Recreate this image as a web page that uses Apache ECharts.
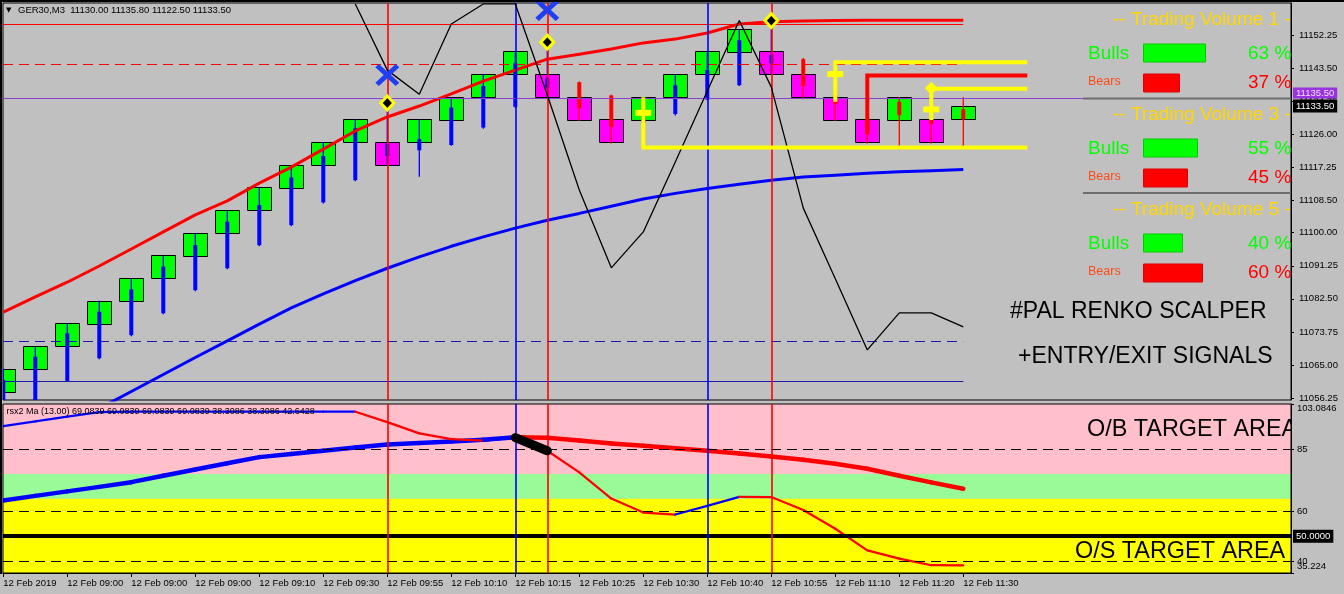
<!DOCTYPE html>
<html><head><meta charset="utf-8">
<script src="https://cdn.jsdelivr.net/npm/echarts@6/dist/echarts.min.js"></script>
<style>html,body{margin:0;padding:0;background:#c0c0c0;overflow:hidden}#c{width:1344px;height:594px}</style>
</head><body><div id="c"></div>
<script>
// ---------------- DATA ----------------
const timeLabels = ['12 Feb 2019','12 Feb 09:00','12 Feb 09:00','12 Feb 09:00','12 Feb 09:10','12 Feb 09:30','12 Feb 09:55','12 Feb 10:10','12 Feb 10:15','12 Feb 10:25','12 Feb 10:30','12 Feb 10:40','12 Feb 10:55','12 Feb 11:10','12 Feb 11:20','12 Feb 11:30'];
const headerSymbol = 'GER30,M3';
const headerOHLC = [11130.00, 11135.80, 11122.50, 11133.50];
const priceTicks = [11152.25, 11143.50, 11134.75, 11126.00, 11117.25, 11108.50, 11100.00, 11091.25, 11082.50, 11073.75, 11065.00, 11056.25];

// renko bricks (open, close)
const brickOpen  = [11058,11064,11070,11076,11082,11088,11094,11100,11106,11112,11118,11124,11124,11124,11130,11136,11142,11142,11136,11130,11130,11136,11142,11148,11148,11142,11136,11130,11130,11130,11130];
const brickClose = [11064,11070,11076,11082,11088,11094,11100,11106,11112,11118,11124,11130,11118,11130,11136,11142,11148,11136,11130,11124,11136,11142,11148,11154,11142,11136,11130,11124,11136,11124,11133.5];

// overlaid candles
const candleOpen  = [11050,11052,11060.8,11066.8,11072.9,11078.7,11084.8,11090.6,11096.7,11102,11108,11113.9,11120.3,11121.8,11123.2,11127.8,11133.3,11138.4,11139.8,11136.3,11129,11131.4,11135.2,11139,11144.8,11145.9,11136.4,11130,11134.6,11130,11132.6];
const candleClose = [11061,11067.2,11073.4,11079.1,11085,11091,11096.7,11102.9,11107.3,11114.6,11120.3,11127.6,11123.6,11124.7,11133.1,11138.8,11144.8,11140.8,11132.9,11128,11132,11139,11143,11150.9,11147,11138.8,11134,11126,11131.1,11128.8,11130];
const candleLow   = [11048,11050,11060.5,11066.5,11072.6,11078.4,11084.5,11090.3,11096.4,11101.7,11107.7,11113.6,11117.7,11114.8,11123,11127.5,11133,11135.9,11129.6,11123.6,11127,11131,11135,11138.8,11141.7,11135.3,11129.6,11123.6,11123,11123.6,11122.5];
const candleHigh  = [11064,11069.8,11076,11082,11087.9,11093.9,11099.8,11105.8,11111.9,11117.8,11123.9,11130,11133.7,11130,11135.8,11141.9,11148,11149.2,11140,11136.5,11135,11141.9,11148,11153.8,11156.2,11146.2,11137,11131,11135.9,11137.3,11135.8];

const maRed  = [11079.0,11083.0,11086.9,11091.2,11095.7,11100.2,11104.7,11108.4,11113.1,11117.35,11122.1,11126.9,11130.6,11133.5,11136.7,11140.1,11143.0,11145.9,11147.2,11148.6,11150.2,11151.2,11152.8,11155.2,11155.8,11156.0,11156.1,11156.2,11156.2,11156.2,11156.2];
const maBlue = [11039.35,11044.1,11048.9,11053.5,11058.0,11062.5,11067.0,11071.4,11075.8,11080.1,11083.8,11087.3,11090.6,11093.6,11096.4,11098.9,11101.2,11103.3,11105.1,11107.0,11108.9,11110.4,11111.7,11112.8,11113.9,11114.7,11115.2,11115.7,11116.1,11116.4,11116.7];
const zigzag = [null,null,null,null,null,null,null,null,null,null,null,11160.5,11143.0,11136.6,11155.2,11160.5,11160.5,11136.4,11111.3,11090.7,11100.2,11118.7,11137.5,11156.1,11138.5,11106.5,11087.8,11069.0,11078.8,11078.8,11075.1];

const levelPrices = [11155.1, 11144.5, 11071.4, 11060.8];
const levelEndBar = 30;
const sellBars = [12, 17, 24];
const buyBars = [16, 22];
const crossMarks = [[12, 11141.7], [17, 11158.9]];
const diamondMarks = [[12, 11134.3], [17, 11150.4], [24, 11156.1]];
const entryDiamond = [[29, 11138.2]];
const signalBars   = [20, 26, 29];
const signalLevels = [11122.5, 11145.1, 11138.1];
const signalStems  = [11135.8, 11134.65, 11129.8];
const signalCross  = [11131.7, 11141.95, 11132.6];
const stopBar = 27, stopLevel = 11141.6, stopStem = 11127.0;
const signalEndBar = 32;
const askPrice = 11135.50, bidPrice = 11133.50;

// lower indicator
const rsxSlow = [64.33,66.2,68.0,69.8,71.7,74.3,76.8,79.3,81.75,83.0,84.3,85.6,86.8,87.4,88.0,88.7,89.7,89.5,88.4,87.2,86.3,85.3,84.3,83.2,82.0,80.7,79.1,77.1,74.3,71.6,69.0839];
const rsxFast = [94.2,96.1,98.0,99.8,100,100,100,100,100,100,100,100,95.8,91.3,89.0,88.4,89.6,84.3,75.6,65.1,59.5,58.7,62.2,65.8,65.7,60.5,53.0,44.3,41.0,38.35,38.3086];
const crossSegment = [[16, 89.6], [17, 84.3]];
const rsxReadout = ['69.0839','69.0839','69.0839','69.0839','38.3086','38.3086','42.6428'];
const rsxTicks = [103.0846, 85, 60, 40];
const rsxTickLabels = ['103.0846', '85', '60', '40'];
const rsxMin = 35.224, rsxMinLabel = '35.224';
const zoneBounds = [35.224, 65, 75, 103.0846];
const dashedLevels = [85, 60, 40];
const midLevel = 50;

// trading volume panel
const volTitles = ['-- Trading Volume 1 -', '-- Trading Volume 3 -', '-- Trading Volume 5 -'];
const bullsPct = [63, 55, 40];
const bearsPct = [37, 45, 60];

// ---------------- CHART ----------------
const FONT = '"Liberation Sans", Arial, sans-serif';
const SMALL = 9.5;
const X_MIN = -0.3 / 32, X_MAX = X_MIN + 1288 / 32;
const BLUE = '#0000ff', RED = '#ff0000', YEL = '#ffff00';
const tickBars = timeLabels.map((_, k) => 2 * k);

const chart = echarts.init(document.getElementById('c'), null, {renderer: 'canvas'});

function renderBrick(params, api) {
  const i = api.value(0), o = api.value(1), c = api.value(2);
  const top = api.coord([i, Math.max(o, c)]);
  const bot = api.coord([i, Math.min(o, c)]);
  const w = api.size([0.75, 0])[0];
  return {type: 'rect', shape: {x: Math.round(top[0] - w / 2) + 0.5, y: Math.round(top[1]) + 0.5, width: Math.round(w), height: Math.round(bot[1] - top[1])},
    style: {fill: c > o ? '#00ff00' : '#ff00ff', stroke: '#000', lineWidth: 1}};
}
function renderCandle(params, api) {
  const i = api.value(0), o = api.value(1), c = api.value(2), l = api.value(3), h = api.value(4);
  const col = c >= o ? BLUE : RED;
  const top = api.coord([i, Math.max(o, c)]), bot = api.coord([i, Math.min(o, c)]);
  const hi = api.coord([i, h]), lo = api.coord([i, l]);
  return {type: 'group', children: [
    {type: 'line', shape: {x1: hi[0], y1: hi[1], x2: lo[0], y2: lo[1]}, style: {stroke: col, lineWidth: 1.3}},
    {type: 'rect', shape: {x: top[0] - 2, y: top[1], width: 4, height: Math.max(1, bot[1] - top[1])}, style: {fill: col}}
  ]};
}
function renderSignal(params, api) {
  const b = api.value(0), lvl = api.value(1), stem = api.value(2), cr = api.value(3);
  const a = api.coord([b, lvl]), s = api.coord([b, stem]), e = api.coord([signalEndBar, lvl]), c = api.coord([b, cr]);
  return {type: 'group', children: [
    {type: 'polyline', shape: {points: [s, a, e]}, style: {stroke: YEL, lineWidth: 4, fill: 'none', lineJoin: 'miter'}},
    {type: 'rect', shape: {x: c[0] - 8, y: c[1] - 3, width: 16, height: 6}, style: {fill: YEL}}
  ]};
}
function renderStop(params, api) {
  const b = api.value(0), lvl = api.value(1), stem = api.value(2);
  const a = api.coord([b, lvl]), s = api.coord([b, stem]), e = api.coord([signalEndBar, lvl]);
  return {type: 'polyline', shape: {points: [s, a, e]}, style: {stroke: RED, lineWidth: 4, fill: 'none'}};
}
function segData(vals) {
  const out = []; let prev = 1;
  for (let i = 0; i < vals.length - 1; i++) {
    let dir = vals[i + 1] > vals[i] ? 1 : (vals[i + 1] < vals[i] ? 0 : prev);
    prev = dir;
    out.push([i, vals[i], i + 1, vals[i + 1], dir]);
  }
  return out;
}
function segRenderer(width) {
  return function (params, api) {
    const p1 = api.coord([api.value(0), api.value(1)]), p2 = api.coord([api.value(2), api.value(3)]);
    return {type: 'line', shape: {x1: p1[0], y1: p1[1], x2: p2[0], y2: p2[1]},
      style: {stroke: api.value(4) ? BLUE : RED, lineWidth: width, lineCap: 'round'}};
  };
}

const vLines = sellBars.map(b => ({xAxis: b, lineStyle: {color: RED, width: 1.6, type: 'solid'}}))
  .concat(buyBars.map(b => ({xAxis: b, lineStyle: {color: BLUE, width: 1.6, type: 'solid'}})));
const levelStyles = [
  {color: RED, width: 1, type: 'solid'}, {color: RED, width: 1, type: [10, 6]},
  {color: '#1c1ca8', width: 1, type: [10, 6]}, {color: '#1c1ca8', width: 1, type: 'solid'}];
const levelLines = levelPrices.map((p, k) => [{coord: [X_MIN, p], lineStyle: levelStyles[k]}, {coord: [levelEndBar, p]}]);

const gridTopsVol = [38, 133, 228];

const series = [
  {type: 'line', xAxisIndex: 0, yAxisIndex: 0, data: [], z: 1, silent: true,
    markLine: {silent: true, symbol: 'none', animation: false, label: {show: false},
      data: levelLines.concat([
        {yAxis: askPrice, lineStyle: {color: '#8a3fd0', width: 1, type: 'solid'},
          label: {show: true, position: 'end', distance: 2, formatter: askPrice.toFixed(2), color: '#f0e0ff', backgroundColor: '#9a32e0', padding: [1, 3, 0, 3], fontSize: SMALL, fontFamily: FONT, verticalAlign: 'bottom'}}
      ])}},
  {type: 'custom', name: 'bricks', xAxisIndex: 0, yAxisIndex: 0, clip: true, z: 2, silent: true,
    renderItem: renderBrick, data: brickOpen.map((o, i) => [i, o, brickClose[i]])},
  {type: 'custom', name: 'candles', xAxisIndex: 0, yAxisIndex: 0, clip: true, z: 3, silent: true,
    renderItem: renderCandle, data: candleOpen.map((o, i) => [i, o, candleClose[i], candleLow[i], candleHigh[i]])},
  {type: 'line', xAxisIndex: 0, yAxisIndex: 0, z: 4, silent: true, showSymbol: false, symbol: 'none',
    data: maRed.map((v, i) => [i, v]), lineStyle: {color: RED, width: 3}},
  {type: 'line', xAxisIndex: 0, yAxisIndex: 0, z: 4, silent: true, showSymbol: false, symbol: 'none',
    data: maBlue.map((v, i) => [i, v]), lineStyle: {color: BLUE, width: 3}},
  {type: 'line', xAxisIndex: 0, yAxisIndex: 0, z: 5, silent: true, showSymbol: false, symbol: 'none', connectNulls: false,
    data: zigzag.map((v, i) => [i, v]), lineStyle: {color: '#000', width: 1.3},
    markLine: {silent: true, symbol: 'none', label: {show: false}, data: vLines}},
  {type: 'custom', xAxisIndex: 0, yAxisIndex: 0, clip: true, z: 6, silent: true, renderItem: renderSignal,
    data: signalBars.map((b, k) => [b, signalLevels[k], signalStems[k], signalCross[k]])},
  {type: 'custom', xAxisIndex: 0, yAxisIndex: 0, clip: true, z: 6, silent: true, renderItem: renderStop,
    data: [[stopBar, stopLevel, stopStem]]},
  {type: 'scatter', xAxisIndex: 0, yAxisIndex: 0, z: 7, silent: true, symbol: 'diamond', symbolSize: [13, 14],
    data: diamondMarks, itemStyle: {color: '#000', borderColor: YEL, borderWidth: 3, opacity: 1}},
  {type: 'scatter', xAxisIndex: 0, yAxisIndex: 0, z: 7, silent: true, symbol: 'diamond', symbolSize: [13, 13],
    data: entryDiamond, itemStyle: {color: YEL, opacity: 1}},
  {type: 'scatter', xAxisIndex: 0, yAxisIndex: 0, z: 8, silent: true,
    symbol: 'path://M0,3 L3,0 L10,7 L17,0 L20,3 L13,10 L20,17 L17,20 L10,13 L3,20 L0,17 L7,10 Z', symbolSize: [24, 22],
    data: crossMarks, itemStyle: {color: '#1f3ff0', opacity: 1}},
  {type: 'line', xAxisIndex: 0, yAxisIndex: 0, data: [], z: 9, silent: true,
    markLine: {silent: true, symbol: 'none', data: [
      {yAxis: bidPrice, lineStyle: {color: 'rgba(0,0,0,0)', width: 1},
        label: {show: true, position: 'end', distance: 2, formatter: bidPrice.toFixed(2), color: '#fff', backgroundColor: '#000', padding: [2, 3, 1, 3], fontSize: SMALL, fontFamily: FONT}}]}},

  // lower panel
  {type: 'line', xAxisIndex: 1, yAxisIndex: 1, data: [], z: 1, silent: true,
    markArea: {silent: true, data: [
      [{yAxis: zoneBounds[2], itemStyle: {color: '#ffc0cb'}}, {yAxis: zoneBounds[3]}],
      [{yAxis: zoneBounds[1], itemStyle: {color: '#98fb98'}}, {yAxis: zoneBounds[2]}],
      [{yAxis: zoneBounds[0], itemStyle: {color: '#ffff00'}}, {yAxis: zoneBounds[1]}]]},
    markLine: {silent: true, symbol: 'none', label: {show: false}, data:
      dashedLevels.map(v => ({yAxis: v, lineStyle: {color: '#000', width: 1, type: [10, 6]}})).concat([
        {yAxis: midLevel, lineStyle: {color: '#000', width: 4, type: 'solid'},
          label: {show: true, position: 'end', distance: 2, formatter: midLevel.toFixed(4), color: '#fff', backgroundColor: '#000', padding: [2, 3, 1, 3], fontSize: SMALL, fontFamily: FONT}}])}},
  {type: 'custom', xAxisIndex: 1, yAxisIndex: 1, clip: true, z: 4, silent: true, renderItem: segRenderer(4.5), data: segData(rsxSlow)},
  {type: 'custom', xAxisIndex: 1, yAxisIndex: 1, clip: true, z: 4, silent: true, renderItem: segRenderer(2.2), data: segData(rsxFast)},
  {type: 'line', xAxisIndex: 1, yAxisIndex: 1, z: 5, silent: true, showSymbol: false, symbol: 'none',
    data: crossSegment, lineStyle: {color: '#000', width: 9, cap: 'round'},
    markLine: {silent: true, symbol: 'none', label: {show: false}, data: vLines}}
];

// trading volume bars
gridTopsVol.forEach((t, k) => {
  series.push({type: 'bar', xAxisIndex: 2 + k, yAxisIndex: 2 + k, barWidth: 19, silent: true, z: 10,
    data: [
      {value: bullsPct[k], itemStyle: {color: '#00ff00', borderColor: '#00cc00', borderWidth: 1}},
      {value: bearsPct[k], itemStyle: {color: '#ff0000', borderColor: '#e00000', borderWidth: 1}}]});
});

const graphic = [
  {type: 'rect', shape: {x: 0, y: 0, width: 1344, height: 2}, style: {fill: '#000'}, z: 200},
  {type: 'rect', shape: {x: 0, y: 0, width: 2, height: 574}, style: {fill: '#000'}, z: 200},
  {type: 'text', x: 6, y: 10, z: 200, style: {text: '▼', fill: '#000', fontSize: 7, fontFamily: '"DejaVu Sans"', textVerticalAlign: 'middle', verticalAlign: 'middle'}},
  {type: 'text', x: 18, y: 10.5, z: 200, style: {text: headerSymbol + '  ' + headerOHLC.map(v => v.toFixed(2)).join(' '), fill: '#000', fontSize: SMALL, fontFamily: FONT, textVerticalAlign: 'middle', verticalAlign: 'middle'}},
  {type: 'text', x: 6.5, y: 412, z: 200, style: {text: 'rsx2 Ma (13.00) ' + rsxReadout.join(' '), fill: '#000', fontSize: 9, fontFamily: FONT, textVerticalAlign: 'middle', verticalAlign: 'middle'}},
  {type: 'text', x: 1010, y: 312, z: 200, style: {text: '#PAL RENKO SCALPER', fill: '#000', fontSize: 23, fontFamily: FONT, textVerticalAlign: 'middle', verticalAlign: 'middle'}},
  {type: 'text', x: 1018, y: 357, z: 200, style: {text: '+ENTRY/EXIT SIGNALS', fill: '#000', fontSize: 23, fontFamily: FONT, textVerticalAlign: 'middle', verticalAlign: 'middle'}},
  {type: 'text', x: 1087, y: 430, z: 200, style: {text: 'O/B TARGET AREA', fill: '#000', fontSize: 23.4, fontFamily: FONT, textVerticalAlign: 'middle', verticalAlign: 'middle'}},
  {type: 'rect', shape: {x: 1292, y: 416, width: 12, height: 28}, style: {fill: '#c0c0c0'}, z: 201},
  {type: 'text', x: 1075, y: 552, z: 200, style: {text: 'O/S TARGET AREA', fill: '#000', fontSize: 23.4, fontFamily: FONT, textVerticalAlign: 'middle', verticalAlign: 'middle'}},
  {type: 'rect', shape: {x: 1083, y: 97.5, width: 208, height: 2}, style: {fill: '#6e6e6e'}, z: 150},
  {type: 'rect', shape: {x: 1083, y: 192, width: 208, height: 2}, style: {fill: '#6e6e6e'}, z: 150}
];
gridTopsVol.forEach((t, k) => {
  graphic.push({type: 'text', x: 1113, y: t - 18, z: 200, style: {text: volTitles[k], fill: '#ffd700', fontSize: 19, fontFamily: FONT, textVerticalAlign: 'middle', verticalAlign: 'middle'}});
  graphic.push({type: 'text', x: 1088, y: t + 16, z: 200, style: {text: 'Bulls', fill: '#00ff00', fontSize: 19, fontFamily: FONT, textVerticalAlign: 'middle', verticalAlign: 'middle'}});
  graphic.push({type: 'text', x: 1088, y: t + 43.5, z: 200, style: {text: 'Bears', fill: '#ff4a1a', fontSize: 12.5, fontFamily: FONT, textVerticalAlign: 'middle', verticalAlign: 'middle'}});
  graphic.push({type: 'text', x: 1248, y: t + 16, z: 200, style: {text: bullsPct[k] + ' %', fill: '#00ff00', fontSize: 19, fontFamily: FONT, textVerticalAlign: 'middle', verticalAlign: 'middle'}});
  graphic.push({type: 'text', x: 1248, y: t + 45, z: 200, style: {text: bearsPct[k] + ' %', fill: '#ff0000', fontSize: 19, fontFamily: FONT, textVerticalAlign: 'middle', verticalAlign: 'middle'}});
});

const option = {
  backgroundColor: '#c0c0c0',
  animation: false,
  textStyle: {fontFamily: FONT},
  grid: [
    {left: 3, right: 53, top: 3, height: 397, show: true, borderColor: '#000', borderWidth: 1, z: 3},
    {left: 3, right: 53, top: 404, height: 169, show: true, borderColor: '#000', borderWidth: 1, z: 3},
    {left: 1143, width: 100, top: gridTopsVol[0], height: 60},
    {left: 1143, width: 100, top: gridTopsVol[1], height: 60},
    {left: 1143, width: 100, top: gridTopsVol[2], height: 60}
  ],
  xAxis: [
    {gridIndex: 0, type: 'value', min: X_MIN, max: X_MAX, show: false},
    {gridIndex: 1, type: 'value', min: X_MIN, max: X_MAX, z: 3,
      axisLine: {show: true, onZero: false, lineStyle: {color: '#000'}}, splitLine: {show: false},
      axisTick: {show: true, customValues: tickBars, length: 4, lineStyle: {color: '#000'}},
      axisLabel: {customValues: tickBars, formatter: v => timeLabels[Math.round(v / 2)] || '', align: 'left', margin: 5, color: '#000', fontSize: SMALL, fontFamily: FONT, showMinLabel: true, showMaxLabel: true, hideOverlap: false}},
    {gridIndex: 2, type: 'value', min: 0, max: 100, show: false},
    {gridIndex: 3, type: 'value', min: 0, max: 100, show: false},
    {gridIndex: 4, type: 'value', min: 0, max: 100, show: false}
  ],
  yAxis: [
    {gridIndex: 0, type: 'value', position: 'right', min: 11055.75, max: 11160.75, z: 3,
      axisLine: {show: true, onZero: false, lineStyle: {color: '#000'}}, splitLine: {show: false},
      axisTick: {show: true, customValues: priceTicks, length: 3, lineStyle: {color: '#000'}},
      axisLabel: {customValues: priceTicks, formatter: v => v.toFixed(2), margin: 8, color: '#000', fontSize: SMALL, fontFamily: FONT, showMinLabel: true, showMaxLabel: true, hideOverlap: false}},
    {gridIndex: 1, type: 'value', position: 'right', min: rsxMin, max: rsxTicks[0], z: 3,
      axisLine: {show: true, onZero: false, lineStyle: {color: '#000'}}, splitLine: {show: false},
      axisTick: {show: true, customValues: rsxTicks.concat([rsxMin]), length: 3, lineStyle: {color: '#000'}},
      axisLabel: {customValues: rsxTicks, margin: 6, color: '#000', fontSize: SMALL, fontFamily: FONT, showMinLabel: true, showMaxLabel: true, hideOverlap: false,
        formatter: v => {
          const k = rsxTicks.findIndex(t => Math.abs(t - v) < 1e-6);
          const s = k >= 0 ? rsxTickLabels[k] : '';
          return k === 0 ? '{top|' + s + '}' : s;
        },
        rich: {top: {padding: [9, 0, 0, 0], fontSize: SMALL, color: '#000', fontFamily: FONT}}}},
    {gridIndex: 2, type: 'category', data: ['Bulls', 'Bears'], inverse: true, show: false},
    {gridIndex: 3, type: 'category', data: ['Bulls', 'Bears'], inverse: true, show: false},
    {gridIndex: 4, type: 'category', data: ['Bulls', 'Bears'], inverse: true, show: false},
    {gridIndex: 1, type: 'value', position: 'right', min: rsxMin, max: rsxTicks[0], z: 3,
      axisLine: {show: false, onZero: false}, axisTick: {show: false}, splitLine: {show: false},
      axisLabel: {customValues: [rsxMin], margin: 6, showMinLabel: true, showMaxLabel: true, hideOverlap: false,
        formatter: () => '{bot|' + rsxMinLabel + '}',
        rich: {bot: {padding: [0, 0, 14, 0], fontSize: SMALL, color: '#000', fontFamily: FONT}}}}
  ],
  series: series,
  graphic: graphic
};
chart.setOption(option);
</script>
</body></html>
